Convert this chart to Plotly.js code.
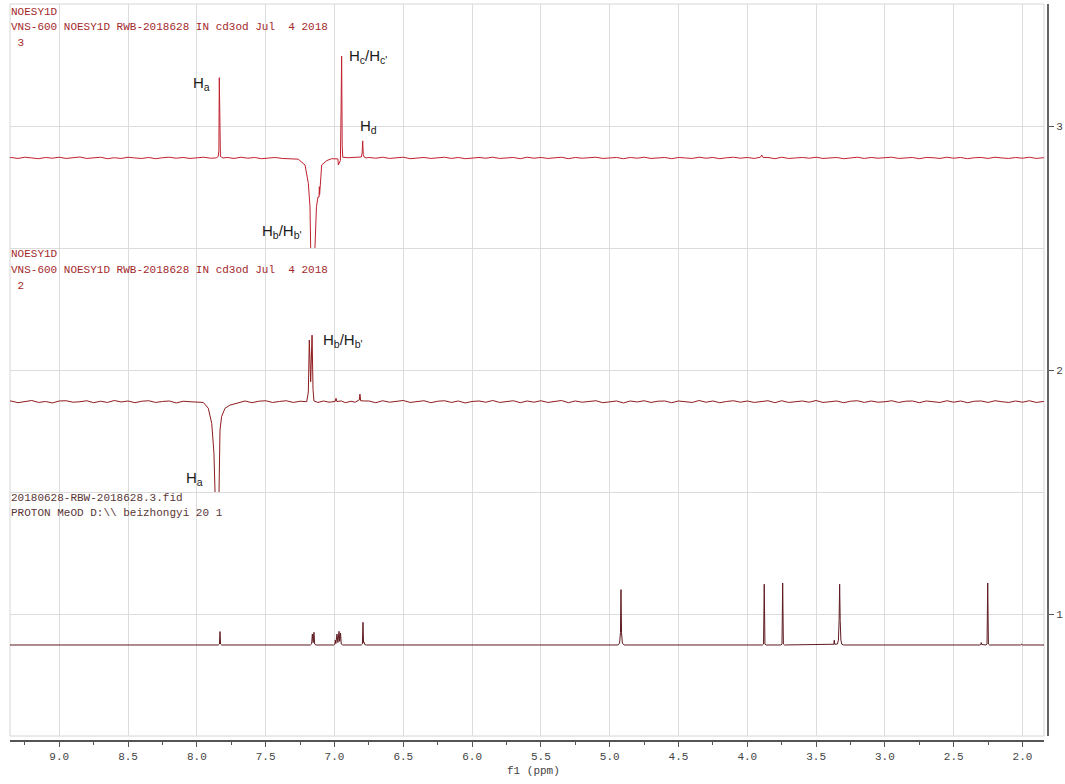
<!DOCTYPE html>
<html>
<head>
<meta charset="utf-8">
<script src="https://cdn.plot.ly/plotly-3.0.1.min.js"></script>
<style>html,body{margin:0;padding:0;background:#fff;}#chart{width:1065px;height:784px;}</style>
</head>
<body>
<div id="chart"></div>
<script>
// ---- Data (ppm, intensity relative to each spectrum's baseline) ----
var stackBaselines = [2.869, 1.870, 0.873];   // spectra 3, 2, 1

var spec3Ppm = [9.36, 9.35, 9.30, 9.25, 9.20, 9.15, 9.10, 9.05, 9.00, 8.95, 8.90, 8.85, 8.80, 8.75, 8.70, 8.65,
  8.60, 8.55, 8.50, 8.45, 8.40, 8.35, 8.30, 8.25, 8.20, 8.15, 8.10, 8.05, 8.00, 7.95, 7.90, 7.86,
  7.845, 7.84, 7.837, 7.834, 7.829, 7.81,
  7.78, 7.73, 7.68, 7.63, 7.58, 7.53, 7.48, 7.43, 7.38, 7.33, 7.29,
  7.263, 7.214, 7.19, 7.178, 7.173, null, 7.142, 7.131, 7.12, 7.112, 7.11, 7.108, 7.093, 7.057, 7.02, 6.985,
  6.975, 6.972, 6.957, 6.952, 6.948, 6.944, 6.94, 6.9, 6.83, 6.805, 6.799, 6.795, 6.791, 6.785, 6.77,
  6.75, 6.70, 6.65, 6.60, 6.55, 6.50, 6.45, 6.40, 6.35, 6.30,
  6.25, 6.20, 6.15, 6.10, 6.05, 6.00, 5.95, 5.90, 5.85, 5.80,
  5.75, 5.70, 5.65, 5.60, 5.55, 5.50, 5.45, 5.40, 5.35, 5.30,
  5.25, 5.20, 5.15, 5.10, 5.05, 5.00, 4.95, 4.90, 4.85, 4.80,
  4.75, 4.70, 4.65, 4.60, 4.55, 4.50, 4.45, 4.40, 4.35, 4.30,
  4.25, 4.20, 4.15, 4.10, 4.05, 4.00, 3.95, 3.905, 3.895, 3.885, 3.85, 3.80,
  3.75, 3.70, 3.65, 3.60, 3.55, 3.50, 3.45, 3.40, 3.35, 3.30,
  3.25, 3.20, 3.15, 3.10, 3.05, 3.00, 2.95, 2.90, 2.85, 2.80,
  2.75, 2.70, 2.65, 2.60, 2.55, 2.50, 2.45, 2.40, 2.35, 2.30,
  2.25, 2.20, 2.15, 2.10, 2.05, 2.00, 1.95, 1.90, 1.85, 1.84];
var spec3Int = [0.001, 0.002, -0.002, 0.003, 0.000, -0.003, 0.002, -0.001, 0.003, -0.002, 0.001, 0.004, -0.002, 0.000, 0.003, -0.003,
  0.001, -0.002, 0.003, 0.000, -0.002, 0.002, -0.003, 0.001, 0.003, -0.001, 0.002, -0.002, 0.001, 0.003, -0.001, 0.0,
  0.006, 0.03, 0.329, 0.03, 0.006, 0.0,
  0.002, -0.002, 0.003, -0.001, 0.002, -0.003, 0.001, 0.002, -0.002, -0.002, -0.004,
  -0.005, -0.029, -0.104, -0.2, -0.369, null, -0.369, -0.2, -0.16, -0.16, -0.118, -0.15, -0.029, -0.011, -0.003, -0.002,
  -0.004, -0.029, -0.01, 0.2, 0.418, 0.05, 0.003, 0.001, 0.001, 0.004, 0.02, 0.07, 0.015, 0.004, 0.0,
  0.002, -0.001, 0.003, -0.002, 0.001, 0.003, -0.003, 0.000, 0.002, -0.002,
  0.001, 0.003, -0.002, 0.002, -0.003, 0.001, 0.002, -0.001, 0.003, -0.002,
  0.000, 0.002, -0.003, 0.003, -0.001, 0.002, -0.002, 0.001, 0.003, -0.003,
  0.002, -0.001, 0.001, 0.003, -0.002, 0.000, 0.002, -0.003, 0.002, -0.001,
  0.003, -0.002, 0.001, 0.002, -0.003, 0.002, 0.000, -0.002, 0.003, -0.001,
  0.002, -0.003, 0.001, 0.003, -0.001, 0.002, -0.002, 0.003, 0.012, 0.002, 0.002, -0.003,
  0.003, -0.002, 0.000, 0.002, -0.001, 0.003, -0.002, 0.001, 0.002, -0.003,
  0.001, 0.003, -0.002, 0.002, -0.001, 0.000, 0.003, -0.002, 0.001, 0.002,
  -0.003, 0.002, 0.001, -0.002, 0.003, -0.001, 0.002, -0.003, 0.001, 0.002,
  -0.002, 0.003, 0.000, -0.002, 0.002, -0.001, 0.003, -0.002, 0.001, 0.000];

var spec2Ppm = [9.36, 9.35, 9.30, 9.25, 9.20, 9.15, 9.10, 9.05, 9.00, 8.95, 8.90, 8.85, 8.80, 8.75, 8.70, 8.65,
  8.60, 8.55, 8.50, 8.45, 8.40, 8.35, 8.30, 8.25, 8.20, 8.15, 8.10, 8.05, 8.00,
  7.953, 7.917, 7.892, 7.876, 7.868, null, 7.839, 7.832, 7.82, 7.796, 7.76, 7.69,
  7.65, 7.60, 7.55, 7.50, 7.45, 7.40, 7.35, 7.30, 7.25,
  7.202, 7.19, 7.183, 7.173, 7.163, 7.156, 7.149, 7.12, 7.08, 7.04,
  6.995, 6.989, 6.983, 6.95, 6.92, 6.88, 6.85, 6.819, 6.815, 6.81, 6.78,
  6.75, 6.70, 6.65, 6.60, 6.55, 6.50, 6.45, 6.40, 6.35, 6.30,
  6.25, 6.20, 6.15, 6.10, 6.05, 6.00, 5.95, 5.90, 5.85, 5.80,
  5.75, 5.70, 5.65, 5.60, 5.55, 5.50, 5.45, 5.40, 5.35, 5.30,
  5.25, 5.20, 5.15, 5.10, 5.05, 5.00, 4.95, 4.90, 4.85, 4.80,
  4.75, 4.70, 4.65, 4.60, 4.55, 4.50, 4.45, 4.40, 4.35, 4.30,
  4.25, 4.20, 4.15, 4.10, 4.05, 4.00, 3.95, 3.90, 3.85, 3.80,
  3.75, 3.70, 3.65, 3.60, 3.55, 3.50, 3.45, 3.40, 3.35, 3.30,
  3.25, 3.20, 3.15, 3.10, 3.05, 3.00, 2.95, 2.90, 2.85, 2.80,
  2.75, 2.70, 2.65, 2.60, 2.55, 2.50, 2.45, 2.40, 2.35, 2.30,
  2.25, 2.20, 2.15, 2.10, 2.05, 2.00, 1.95, 1.90, 1.85, 1.84];
var spec2Int = [0.002, 0.003, -0.004, 0.002, 0.005, -0.003, 0.001, -0.005, 0.003, 0.004, -0.002, 0.000, 0.004, -0.004, 0.002, -0.003,
  0.005, -0.001, 0.003, -0.004, 0.002, 0.004, -0.003, 0.001, 0.003, -0.005, 0.002, 0.000, -0.002,
  -0.003, -0.027, -0.089, -0.211, -0.37, null, -0.37, -0.116, -0.061, -0.027, -0.014, -0.004,
  0.003, -0.004, 0.002, 0.004, -0.003, 0.001, 0.004, -0.003, 0.002,
  0.0, 0.04, 0.253, 0.082, 0.273, 0.05, 0.003, -0.003, 0.003, -0.002,
  0.001, 0.014, 0.001, 0.003, -0.004, 0.002, -0.002, 0.008, 0.031, 0.004, 0.003,
  0.003, -0.004, 0.004, -0.002, 0.001, 0.005, -0.003, 0.000, 0.004, -0.004,
  0.002, 0.004, -0.003, 0.003, -0.005, 0.001, 0.003, -0.002, 0.005, -0.003,
  0.000, 0.004, -0.004, 0.003, -0.002, 0.004, -0.003, 0.001, 0.005, -0.004,
  0.003, -0.002, 0.002, 0.004, -0.004, 0.000, 0.003, -0.005, 0.003, -0.001,
  0.004, -0.003, 0.002, 0.003, -0.004, 0.003, 0.000, -0.003, 0.005, -0.002,
  0.003, -0.004, 0.001, 0.004, -0.002, 0.003, -0.003, 0.002, 0.004, -0.004,
  0.004, -0.003, 0.000, 0.003, -0.002, 0.005, -0.003, 0.001, 0.003, -0.004,
  0.002, 0.004, -0.003, 0.003, -0.002, 0.000, 0.004, -0.003, 0.002, 0.003,
  -0.004, 0.003, 0.001, -0.003, 0.004, -0.002, 0.003, -0.004, 0.002, 0.003,
  -0.003, 0.004, 0.000, -0.003, 0.003, -0.002, 0.004, -0.003, 0.001, 0.000];

var spec1Ppm = [9.36, 7.845, 7.836, 7.832, 7.828, 7.82,
  7.175, 7.166, 7.161, 7.155, 7.149, 7.144, 7.135,
  7.005, 6.997, 6.994, 6.99, 6.982, 6.975, 6.967, 6.962, 6.956, 6.951, 6.94,
  6.805, 6.797, 6.793, 6.789, 6.785, 6.78, 6.77,
  4.94, 4.928, 4.922, 4.918, 4.914, 4.908, 4.895,
  3.89, 3.882, 3.877, 3.872, 3.865,
  3.755, 3.748, 3.743, 3.738, 3.73,
  3.378, 3.371, 3.368, 3.365, 3.345, 3.338, 3.333, 3.329, 3.325, 3.32, 3.313, 3.30,
  2.31, 2.303, 2.30, 2.297, 2.265, 2.258, 2.253, 2.248, 2.24,
  2.015, 2.007, 2.003, 1.844];
var spec1Int = [0, 0, 0.004, 0.055, 0.004, 0,
  0, 0.004, 0.045, 0.01, 0.052, 0.004, 0,
  0, 0.004, 0.02, 0.006, 0.045, 0.01, 0.056, 0.015, 0.049, 0.004, 0,
  0, 0.004, 0.093, 0.01, 0.012, 0.002, 0,
  0, 0.008, 0.05, 0.227, 0.05, 0.008, 0,
  0, 0.004, 0.249, 0.004, 0,
  0, 0.004, 0.254, 0.004, 0,
  0, 0.003, 0.02, 0.003, 0.004, 0.02, 0.1, 0.249, 0.1, 0.02, 0.003, 0,
  0, 0.002, 0.01, 0.002, 0, 0.004, 0.254, 0.004, 0,
  0, 0.004, 0, 0];

var headerLines3 = ["NOESY1D", "VNS-600 NOESY1D RWB-2018628 IN cd3od Jul\u00a0\u00a04 2018", "\u00a03"];
var headerLines2 = ["NOESY1D", "VNS-600 NOESY1D RWB-2018628 IN cd3od Jul\u00a0\u00a04 2018", "\u00a02"];
var headerLines1 = ["20180628-RBW-2018628.3.fid", "PROTON MeOD D:\\\\ beizhongyi 20 1"];

var peakLabels = [
  {text: "H<sub>a</sub>", ppm: 7.963, y: 3.176},
  {text: "H<sub>c</sub>/H<sub>c'</sub>", ppm: 6.757, y: 3.283},
  {text: "H<sub>d</sub>", ppm: 6.750, y: 3.0},
  {text: "H<sub>b</sub>/H<sub>b'</sub>", ppm: 7.381, y: 2.566},
  {text: "H<sub>b</sub>/H<sub>b'</sub>", ppm: 6.937, y: 2.119},
  {text: "H<sub>a</sub>", ppm: 8.014, y: 1.557}
];

// ---- Build ----
function shift(arr, off) { return arr.map(function (v) { return v === null ? null : v + off; }); }

var traces = [
  {x: spec3Ppm, y: shift(spec3Int, stackBaselines[0]), type: 'scatter', mode: 'lines',
   line: {color: '#c0202e', width: 1}, connectgaps: false, hoverinfo: 'skip'},
  {x: spec2Ppm, y: shift(spec2Int, stackBaselines[1]), type: 'scatter', mode: 'lines',
   line: {color: '#8e1b1e', width: 1}, connectgaps: false, hoverinfo: 'skip'},
  {x: spec1Ppm, y: shift(spec1Int, stackBaselines[2]), type: 'scatter', mode: 'lines',
   line: {color: '#5e1a20', width: 1}, connectgaps: false, hoverinfo: 'skip'}
];

var W = 1065, H = 784, mL = 10, mR = 17, mT = 4, mB = 43;
var pw = W - mL - mR, ph = H - mT - mB;
function px(xp) { return (xp - mL) / pw; }
function py(yp) { return (H - mB - yp) / ph; }

var mono = 'Liberation Mono, DejaVu Sans Mono, monospace';
var annotations = [];
function addHeader(lines, ys, color) {
  lines.forEach(function (t, i) {
    annotations.push({text: t, xref: 'paper', yref: 'paper', x: px(9), y: py(ys[i]),
      xanchor: 'left', yanchor: 'middle', showarrow: false,
      font: {family: mono, size: 11, color: color}});
  });
}
addHeader(headerLines3, [12, 27, 43], '#a3282c');
addHeader(headerLines2, [254, 270, 286], '#a3282c');
addHeader(headerLines1, [498, 513], '#5a3536');

peakLabels.forEach(function (p) {
  annotations.push({text: p.text, x: p.ppm, y: p.y, xref: 'x', yref: 'y', showarrow: false,
    xanchor: 'center', yanchor: 'middle',
    font: {family: 'Liberation Sans, Arial, sans-serif', size: 15, color: '#1a1a1a'}});
});
annotations.push({text: 'f1 (ppm)', xref: 'paper', yref: 'paper', x: px(533), y: py(771),
  xanchor: 'center', yanchor: 'middle', showarrow: false,
  font: {family: mono, size: 11, color: '#444'}});

var layout = {
  width: W, height: H,
  margin: {l: mL, r: mR, t: mT, b: mB, pad: 0},
  paper_bgcolor: '#fff', plot_bgcolor: '#fff',
  showlegend: false,
  xaxis: {
    range: [9.358, 1.844], domain: [0, (1044 - mL) / pw],
    anchor: 'free', position: 0,
    tick0: 0, dtick: 0.5, tickformat: '.1f',
    ticks: 'outside', ticklen: 5, tickwidth: 1, tickcolor: '#555',
    showgrid: true, gridcolor: '#dcdcdc', gridwidth: 1,
    showline: true, linecolor: '#555', linewidth: 2,
    zeroline: false,
    minor: {dtick: 0.25, tick0: 0, ticks: 'outside', ticklen: 3, tickcolor: '#555', showgrid: false},
    tickfont: {family: mono, size: 11, color: '#444'}
  },
  yaxis: {
    range: [0.5, 3.5], domain: [(H - mB - 736) / ph, 1],
    anchor: 'free', position: 1, side: 'right',
    tick0: 0, dtick: 1,
    ticks: 'outside', ticklen: 5, tickwidth: 1, tickcolor: '#555',
    showgrid: true, gridcolor: '#dcdcdc', gridwidth: 1,
    showline: true, linecolor: '#666', linewidth: 2,
    zeroline: false,
    minor: {dtick: 0.5, tick0: 0, ticks: '', showgrid: true, gridcolor: '#dcdcdc'},
    tickfont: {family: mono, size: 11, color: '#444'}
  },
  shapes: [
    {type: 'rect', xref: 'x domain', yref: 'y domain', x0: 0, x1: 1, y0: 0, y1: 1,
     line: {color: '#d6d6d6', width: 1}, fillcolor: 'rgba(0,0,0,0)', layer: 'below'}
  ],
  annotations: annotations
};

Plotly.newPlot('chart', traces, layout, {displayModeBar: false, staticPlot: true});
</script>
</body>
</html>
